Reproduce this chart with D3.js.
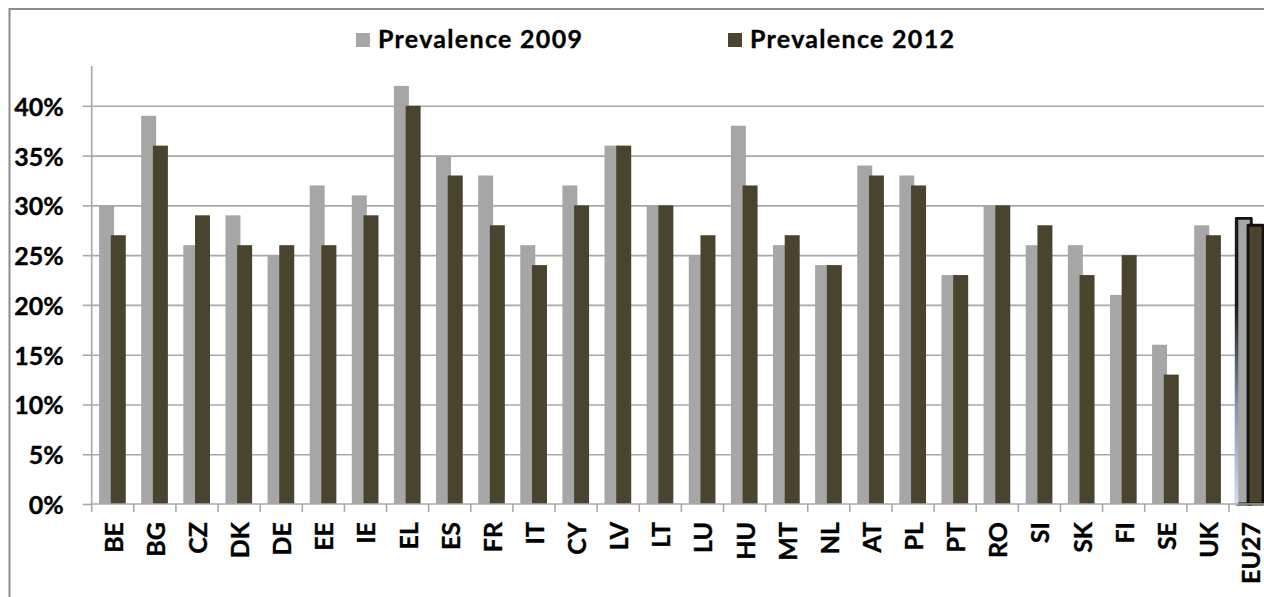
<!DOCTYPE html>
<html>
<head>
<meta charset="utf-8">
<script src="https://cdn.jsdelivr.net/npm/d3@7"></script>
<style>
  html, body { margin: 0; padding: 0; background: #fff; overflow: hidden; }
  svg { display: block; }
  text { font-family: Lato, "Open Sans", sans-serif; font-weight: 700; fill: #000; stroke: #000; stroke-width: 0.35px; }
</style>
</head>
<body>
<svg id="chart" width="1264" height="597"></svg>
<script>
// Countries (EU member states + EU27 average)
const countries = ["BE","BG","CZ","DK","DE","EE","IE","EL","ES","FR","IT","CY","LV","LT","LU",
                   "HU","MT","NL","AT","PL","PT","RO","SI","SK","FI","SE","UK","EU27"];
// Prevalence, percent
const prev2009 = [30,39,26,29,25,32,31,42,35,33,26,32,36,30,25,38,26,24,34,33,23,30,26,26,21,16,28,28.7];
const prev2012 = [27,36,29,26,26,26,29,40,33,28,24,30,36,30,27,32,27,24,33,32,23,30,28,23,25,13,27,28];
const seriesNames = ["Prevalence 2009", "Prevalence 2012"];
const yTicks = [0, 5, 10, 15, 20, 25, 30, 35, 40];

const colors = ["#a6a6a6", "#4a442e"];
const gridColor = "#a8a8a8";

const svg = d3.select("#chart");

// chart frame (runs past the right and bottom edges of the window)
svg.append("rect")
  .attr("x", 9.5).attr("y", 9).attr("width", 1400).attr("height", 700)
  .attr("fill", "none").attr("stroke", "#8c8c8c").attr("stroke-width", 2);

const plotLeft = 91.7, plotBottom = 504, plotTop = 66, band = 42.12;

const x = d3.scaleBand()
  .domain(countries)
  .range([plotLeft, plotLeft + band * countries.length])
  .paddingInner(0).paddingOuter(0);
const y = d3.scaleLinear().domain([0, 44]).range([plotBottom, plotTop]);

const bw = x.bandwidth();

// horizontal gridlines
svg.append("g")
  .attr("transform", `translate(${plotLeft},0)`)
  .call(d3.axisLeft(y).tickValues(yTicks.slice(1)).tickSize(-1400).tickFormat(""))
  .call(g => g.select(".domain").remove())
  .call(g => g.selectAll("line").attr("stroke", gridColor).attr("stroke-width", 1.6));

// bars
const rows = countries.map((c, i) => ({ c, v: [prev2009[i], prev2012[i]], avg: c === "EU27" }));
const offsets = [0.175, 0.453];
const widthFrac = 0.356;

// soft blue edge on the EU27 bar
const defs = svg.append("defs");
const grad = defs.append("linearGradient").attr("id", "edgeGlow")
  .attr("x1", 0).attr("y1", 0).attr("x2", 0).attr("y2", 1);
grad.append("stop").attr("offset", "0.3").attr("stop-color", "#1a1a1a");
grad.append("stop").attr("offset", "0.65").attr("stop-color", "#7f93ad");
grad.append("stop").attr("offset", "1").attr("stop-color", "#cfe0f6");

[0, 1].forEach(s => {
  svg.append("g").selectAll("rect")
    .data(rows)
    .join("rect")
    .attr("x", d => x(d.c) + offsets[s] * bw)
    .attr("y", d => y(d.v[s]))
    .attr("width", widthFrac * bw)
    .attr("height", d => y(0) - y(d.v[s]))
    .attr("fill", colors[s])
    .attr("stroke", d => d.avg ? "#111" : "none")
    .attr("stroke-width", d => d.avg ? 2.8 : 0)
    .attr("stroke-linejoin", "round");
  if (s === 0) {
    const d = rows[rows.length - 1];
    svg.append("rect")
      .attr("x", x(d.c) + offsets[0] * bw - 1.4)
      .attr("y", y(d.v[0]) + 2)
      .attr("width", 3.4)
      .attr("height", y(0) - y(d.v[0]) - 1)
      .attr("fill", "url(#edgeGlow)");
  }
});

// y axis
const yAxis = svg.append("g")
  .attr("transform", `translate(${plotLeft},0)`)
  .call(d3.axisLeft(y).tickValues(yTicks).tickSize(9).tickPadding(0).tickFormat(d => d + "%"));
yAxis.select(".domain").attr("d", `M0,${plotTop}V${plotBottom}`).attr("stroke", gridColor).attr("stroke-width", 1.6);
yAxis.selectAll("line").attr("stroke", gridColor).attr("stroke-width", 1.6);
yAxis.selectAll("text")
  .attr("x", -28).attr("dy", 0).attr("y", 9.5)
  .style("font-size", "25px").style("font-family", "Lato, sans-serif").style("font-weight", 700)
  .attr("text-anchor", "end").attr("fill", "#000");

// x axis: labels centred under categories, ticks on category boundaries
const xAxis = svg.append("g")
  .attr("transform", `translate(0,${plotBottom})`)
  .call(d3.axisBottom(x).tickSize(0).tickPadding(0));
xAxis.select(".domain").attr("d", `M${plotLeft},0H1400`).attr("stroke", gridColor).attr("stroke-width", 1.6);
xAxis.selectAll("text")
  .attr("y", 0).attr("dy", 0)
  .attr("transform", "translate(10,18) rotate(-90)")
  .attr("text-anchor", "end")
  .style("font-size", "25px").style("font-family", "Lato, sans-serif").style("font-weight", 700)
  .attr("fill", "#000");

svg.append("g").selectAll("line")
  .data(d3.range(countries.length + 1))
  .join("line")
  .attr("x1", i => plotLeft + i * bw).attr("x2", i => plotLeft + i * bw)
  .attr("y1", plotBottom).attr("y2", plotBottom + 8)
  .attr("stroke", gridColor).attr("stroke-width", 1.6);

// legend
const legendX = [356, 728];
const legend = svg.append("g").selectAll("g")
  .data(seriesNames)
  .join("g")
  .attr("transform", (d, i) => `translate(${legendX[i]},0)`);
legend.append("rect")
  .attr("x", 0).attr("y", 33).attr("width", 14).attr("height", 14)
  .attr("fill", (d, i) => colors[i]);
legend.append("text")
  .attr("x", 22).attr("y", 48)
  .style("font-size", "25px").style("letter-spacing", "1.3px")
  .text(d => d);
</script>
</body>
</html>
